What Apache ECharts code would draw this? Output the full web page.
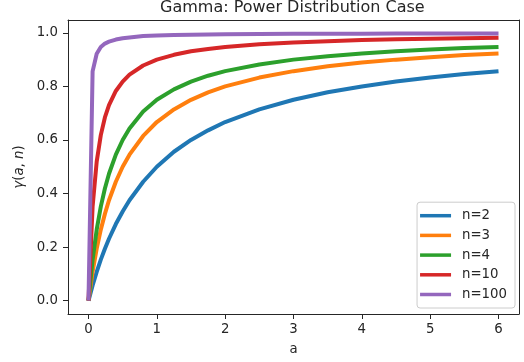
<!DOCTYPE html>
<html>
<head>
<meta charset="utf-8">
<script src="https://cdn.jsdelivr.net/npm/echarts@6/dist/echarts.min.js"></script>
<style>
  html, body { margin: 0; padding: 0; background: #fff; }
  #chart { width: 524px; height: 362px; }
</style>
</head>
<body>
<div id="chart"></div>
<script>
// Sample points along a
const aValues = [0, 0.06, 0.12, 0.18, 0.24, 0.3, 0.4, 0.5, 0.6, 0.8, 1.0, 1.25, 1.5, 1.75, 2.0, 2.5, 3.0, 3.5, 4.0, 4.5, 5.0, 5.5, 6.0];

// γ(a, n) readings for each n
const gammaN2   = [0, 0.057, 0.107, 0.153, 0.194, 0.231, 0.286, 0.333, 0.375, 0.444, 0.500, 0.556, 0.600, 0.636, 0.667, 0.714, 0.750, 0.778, 0.800, 0.818, 0.833, 0.846, 0.857];
const gammaN3   = [0, 0.107, 0.194, 0.265, 0.324, 0.375, 0.444, 0.500, 0.545, 0.615, 0.667, 0.714, 0.750, 0.778, 0.800, 0.833, 0.857, 0.875, 0.889, 0.900, 0.909, 0.917, 0.923];
const gammaN4   = [0, 0.153, 0.265, 0.351, 0.419, 0.474, 0.545, 0.600, 0.643, 0.706, 0.750, 0.789, 0.818, 0.840, 0.857, 0.882, 0.900, 0.913, 0.923, 0.931, 0.938, 0.943, 0.947];
const gammaN10  = [0, 0.351, 0.519, 0.618, 0.684, 0.730, 0.783, 0.818, 0.844, 0.878, 0.900, 0.918, 0.931, 0.940, 0.947, 0.957, 0.964, 0.969, 0.973, 0.976, 0.978, 0.980, 0.982];
const gammaN100 = [0, 0.856, 0.922, 0.947, 0.960, 0.967, 0.975, 0.980, 0.983, 0.988, 0.990, 0.992, 0.993, 0.994, 0.995, 0.996, 0.997, 0.997, 0.997, 0.998, 0.998, 0.998, 0.998];

const seriesNames = ['n=2', 'n=3', 'n=4', 'n=10', 'n=100'];
const seriesValues = [gammaN2, gammaN3, gammaN4, gammaN10, gammaN100];
const colors = ['#1f77b4', '#ff7f0e', '#2ca02c', '#d62728', '#9467bd'];

const xTicks = [0, 1, 2, 3, 4, 5, 6];
const yTicks = [0, 0.2, 0.4, 0.6, 0.8, 1.0];

const FONT = 'DejaVu Sans';
const INK = '#262626';
const FS = 13.3;
const X_MIN = -0.3, X_MAX = 6.3;
const Y_MIN = -0.0499, Y_MAX = 1.048;

// plain axis used for the top and right edges of the frame
const frameAxis = (extra) => Object.assign({
  type: 'value',
  axisLine: { show: true, onZero: false, lineStyle: { color: INK, width: 1 } },
  axisTick: { show: false },
  axisLabel: { show: false },
  splitLine: { show: false }
}, extra);

const chart = echarts.init(document.getElementById('chart'), null, { renderer: 'canvas' });

chart.setOption({
  animation: false,
  backgroundColor: '#ffffff',
  color: colors,
  title: {
    text: 'Gamma: Power Distribution Case',
    left: 160,
    top: 0,
    padding: 0,
    textStyle: { fontFamily: FONT, fontSize: 16, fontWeight: 'normal', color: INK }
  },
  grid: { left: 68, right: 5, top: 20, bottom: 48 },
  xAxis: [{
    type: 'value',
    position: 'bottom',
    min: X_MIN, max: X_MAX,
    name: 'a',
    nameLocation: 'middle',
    nameGap: 29,
    nameTextStyle: { fontFamily: FONT, fontSize: FS, color: INK },
    axisLine: { show: true, onZero: false, lineStyle: { color: INK, width: 1 } },
    axisTick: { show: true, length: 5, lineStyle: { color: INK }, customValues: xTicks },
    axisLabel: {
      fontFamily: FONT, fontSize: FS, color: INK, margin: 9,
      customValues: xTicks,
      formatter: v => String(v)
    },
    splitLine: { show: false }
  }, frameAxis({ position: 'top', min: X_MIN, max: X_MAX })],
  yAxis: [{
    type: 'value',
    position: 'left',
    min: Y_MIN, max: Y_MAX,
    name: '{i|γ}{r|(}{i|a}{r|, }{i|n}{r|)}',
    nameLocation: 'middle',
    nameGap: 38,
    nameTextStyle: {
      fontFamily: FONT, fontSize: FS, color: INK,
      rich: {
        i: { fontFamily: FONT, fontSize: FS, fontStyle: 'italic', color: INK },
        r: { fontFamily: FONT, fontSize: FS, color: INK }
      }
    },
    axisLine: { show: true, onZero: false, lineStyle: { color: INK, width: 1 } },
    axisTick: { show: true, length: 5, lineStyle: { color: INK }, customValues: yTicks },
    axisLabel: {
      fontFamily: FONT, fontSize: FS, color: INK, margin: 10,
      customValues: yTicks,
      formatter: v => v.toFixed(1)
    },
    splitLine: { show: false }
  }, frameAxis({ position: 'right', min: Y_MIN, max: Y_MAX })],
  legend: {
    orient: 'vertical',
    right: 9,
    bottom: 54,
    icon: 'rect',
    itemWidth: 31,
    itemHeight: 3.5,
    itemGap: 6.7,
    padding: [7, 8, 7, 3],
    borderColor: '#cccccc',
    borderWidth: 1,
    borderRadius: 3,
    backgroundColor: 'rgba(255,255,255,0.8)',
    textStyle: { fontFamily: FONT, fontSize: FS, color: INK, padding: [0, 0, 0, 6] },
    data: seriesNames
  },
  series: seriesNames.map((name, i) => ({
    name,
    type: 'line',
    xAxisIndex: 0,
    yAxisIndex: 0,
    showSymbol: false,
    symbol: 'none',
    data: aValues.map((a, k) => [a, seriesValues[i][k]]),
    lineStyle: { width: 4, color: colors[i] },
    itemStyle: { color: colors[i] }
  }))
});
</script>
</body>
</html>
